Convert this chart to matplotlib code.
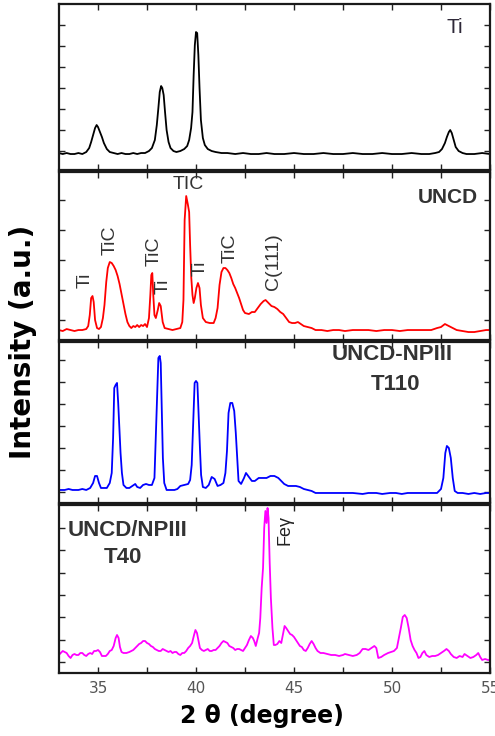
import matplotlib
matplotlib.use("Agg")
import matplotlib.pyplot as plt
from matplotlib.ticker import MultipleLocator

plt.rcParams["font.family"] = ["Liberation Sans", "DejaVu Sans"]

# XRD traces: (2theta, intensity in arbitrary units)
ti_trace = [
    (33.0, 17), (33.2, 16), (33.4, 17), (33.6, 16), (33.8, 16), (34.0, 17), (34.2, 16),
    (34.4, 18), (34.55, 22), (34.65, 28), (34.75, 35), (34.85, 42), (34.93, 45), (35.0, 43),
    (35.1, 38), (35.2, 33), (35.3, 27), (35.45, 21), (35.6, 18), (35.8, 17), (36.0, 16),
    (36.2, 17), (36.4, 16), (36.6, 16), (36.8, 17), (37.0, 16), (37.2, 17), (37.4, 17),
    (37.6, 19), (37.75, 22), (37.9, 30), (38.0, 45), (38.08, 62), (38.15, 78), (38.22, 84),
    (38.28, 82), (38.35, 75), (38.42, 58), (38.5, 40), (38.6, 28), (38.7, 22), (38.85, 19),
    (39.0, 18), (39.2, 19), (39.4, 21), (39.55, 24), (39.65, 30), (39.75, 42), (39.82, 58),
    (39.88, 95), (39.94, 125), (40.0, 138), (40.06, 137), (40.12, 115), (40.18, 82),
    (40.25, 50), (40.35, 32), (40.45, 25), (40.6, 21), (40.8, 19), (41.0, 18), (41.3, 17),
    (41.6, 17), (42.0, 16), (42.4, 17), (42.8, 16), (43.2, 16), (43.6, 17), (44.0, 16),
    (44.5, 16), (45.0, 17), (45.5, 16), (46.0, 16), (46.5, 17), (47.0, 16), (47.5, 16),
    (48.0, 17), (48.5, 16), (49.0, 16), (49.5, 17), (50.0, 16), (50.5, 16), (51.0, 17),
    (51.5, 16), (51.9, 16), (52.2, 17), (52.4, 18), (52.55, 21), (52.7, 27), (52.8, 33),
    (52.9, 38), (52.97, 40), (53.05, 37), (53.15, 30), (53.25, 23), (53.4, 19), (53.6, 17),
    (53.8, 16), (54.2, 16), (54.6, 17), (55.0, 16),
]

uncd_trace = [
    (33.0, 10), (33.2, 9), (33.4, 11), (33.6, 10), (33.8, 9), (34.0, 10), (34.2, 10),
    (34.4, 11), (34.5, 14), (34.58, 25), (34.65, 42), (34.72, 44), (34.78, 38), (34.85, 20),
    (34.95, 12), (35.05, 11), (35.15, 13), (35.25, 22), (35.33, 35), (35.42, 58), (35.5, 72),
    (35.6, 78), (35.7, 77), (35.8, 74), (35.9, 70), (36.0, 64), (36.1, 56), (36.2, 46),
    (36.3, 36), (36.4, 26), (36.5, 18), (36.6, 14), (36.7, 12), (36.8, 14), (36.9, 13),
    (37.0, 15), (37.1, 13), (37.2, 15), (37.3, 14), (37.4, 16), (37.5, 13), (37.6, 22),
    (37.67, 45), (37.72, 65), (37.77, 67), (37.82, 45), (37.88, 25), (37.95, 22), (38.05, 30),
    (38.12, 37), (38.2, 34), (38.3, 18), (38.4, 12), (38.6, 11), (38.8, 10), (39.0, 11),
    (39.2, 12), (39.3, 18), (39.36, 40), (39.42, 120), (39.5, 144), (39.58, 136), (39.65, 128),
    (39.7, 95), (39.76, 62), (39.82, 45), (39.88, 37), (39.94, 42), (40.02, 52), (40.1, 57),
    (40.18, 52), (40.25, 35), (40.35, 22), (40.5, 18), (40.7, 17), (40.9, 17), (41.0, 22),
    (41.1, 32), (41.2, 55), (41.3, 68), (41.4, 72), (41.5, 72), (41.6, 70), (41.7, 67),
    (41.8, 62), (41.9, 56), (42.0, 52), (42.1, 47), (42.2, 42), (42.3, 36), (42.4, 30),
    (42.5, 27), (42.7, 26), (42.85, 28), (43.0, 28), (43.15, 32), (43.3, 36), (43.45, 39),
    (43.55, 40), (43.7, 37), (43.85, 34), (44.0, 33), (44.15, 31), (44.3, 28), (44.45, 26),
    (44.6, 22), (44.75, 18), (44.9, 17), (45.05, 17), (45.2, 18), (45.35, 16), (45.5, 14),
    (45.7, 13), (45.9, 12), (46.1, 10), (46.4, 10), (46.7, 9), (47.0, 10), (47.3, 10),
    (47.6, 9), (48.0, 10), (48.4, 10), (48.8, 10), (49.2, 9), (49.6, 10), (50.0, 10),
    (50.4, 9), (50.8, 10), (51.2, 10), (51.6, 10), (52.0, 10), (52.3, 12), (52.5, 13),
    (52.7, 16), (52.9, 14), (53.1, 12), (53.3, 10), (53.6, 9), (53.9, 8), (54.2, 8),
    (54.5, 9), (54.8, 10), (55.0, 10),
]

t110_trace = [
    (33.0, 13), (33.3, 13), (33.5, 14), (33.7, 13), (34.0, 13), (34.2, 14), (34.4, 13),
    (34.6, 15), (34.75, 20), (34.85, 27), (34.95, 27), (35.05, 20), (35.15, 15), (35.3, 15),
    (35.45, 15), (35.6, 20), (35.7, 30), (35.77, 65), (35.83, 115), (35.9, 118), (35.97, 120),
    (36.03, 100), (36.08, 80), (36.15, 50), (36.22, 30), (36.3, 18), (36.45, 15), (36.6, 15),
    (36.75, 17), (36.9, 19), (37.0, 16), (37.15, 15), (37.3, 18), (37.45, 19), (37.6, 18),
    (37.75, 18), (37.88, 25), (37.95, 67), (38.02, 110), (38.08, 145), (38.15, 147),
    (38.2, 140), (38.25, 95), (38.31, 45), (38.38, 20), (38.5, 13), (38.7, 13), (38.9, 13),
    (39.05, 14), (39.2, 17), (39.4, 18), (39.6, 19), (39.7, 23), (39.78, 38), (39.86, 83),
    (39.93, 120), (40.0, 122), (40.07, 120), (40.14, 85), (40.2, 55), (40.26, 28),
    (40.35, 16), (40.5, 15), (40.65, 18), (40.8, 26), (40.95, 24), (41.1, 17), (41.25, 18),
    (41.4, 20), (41.5, 30), (41.58, 52), (41.66, 90), (41.75, 100), (41.85, 100), (41.95, 92),
    (42.03, 70), (42.1, 45), (42.17, 22), (42.3, 19), (42.45, 25), (42.55, 30), (42.7, 26),
    (42.85, 22), (43.0, 22), (43.2, 25), (43.4, 25), (43.6, 25), (43.8, 27), (44.0, 27),
    (44.2, 25), (44.35, 22), (44.5, 19), (44.7, 17), (44.9, 17), (45.1, 17), (45.3, 16),
    (45.5, 14), (45.7, 13), (45.9, 12), (46.1, 10), (46.5, 10), (47.0, 10), (47.5, 10),
    (48.0, 10), (48.5, 9), (48.8, 10), (49.2, 10), (49.5, 9), (49.9, 10), (50.2, 10),
    (50.5, 9), (50.8, 10), (51.2, 10), (51.6, 10), (52.0, 10), (52.3, 10), (52.5, 14),
    (52.62, 25), (52.72, 50), (52.8, 57), (52.9, 55), (53.0, 45), (53.1, 25), (53.2, 12),
    (53.35, 10), (53.6, 10), (53.9, 9), (54.2, 10), (54.5, 9), (54.8, 10), (55.0, 10),
]

t40_trace = [
    (33.0, 18), (33.1, 20), (33.2, 22), (33.3, 21), (33.4, 20), (33.5, 17), (33.6, 15),
    (33.7, 18), (33.8, 19), (33.9, 18), (34.0, 18), (34.1, 20), (34.2, 20), (34.3, 18),
    (34.4, 17), (34.5, 19), (34.6, 20), (34.7, 19), (34.8, 22), (34.9, 22), (35.0, 23),
    (35.1, 21), (35.2, 17), (35.3, 17), (35.4, 17), (35.5, 19), (35.6, 22), (35.7, 23),
    (35.8, 27), (35.9, 35), (35.97, 38), (36.05, 35), (36.12, 26), (36.2, 21), (36.3, 20),
    (36.45, 20), (36.6, 21), (36.7, 22), (36.8, 23), (36.9, 25), (37.0, 27), (37.1, 29),
    (37.2, 30), (37.3, 32), (37.4, 32), (37.5, 30), (37.6, 29), (37.7, 27), (37.8, 26),
    (37.9, 24), (38.0, 23), (38.1, 22), (38.2, 22), (38.3, 24), (38.4, 23), (38.5, 22),
    (38.6, 21), (38.7, 22), (38.8, 20), (38.9, 21), (39.0, 21), (39.1, 19), (39.2, 18),
    (39.3, 20), (39.4, 20), (39.5, 22), (39.6, 25), (39.7, 27), (39.8, 30), (39.9, 38),
    (39.97, 43), (40.05, 40), (40.12, 33), (40.2, 25), (40.3, 23), (40.4, 22), (40.5, 23),
    (40.6, 24), (40.7, 22), (40.8, 22), (40.9, 23), (41.0, 23), (41.1, 25), (41.2, 27),
    (41.3, 30), (41.4, 32), (41.5, 31), (41.6, 30), (41.7, 27), (41.8, 26), (41.9, 25),
    (42.0, 23), (42.1, 24), (42.2, 24), (42.3, 23), (42.4, 22), (42.5, 25), (42.6, 28),
    (42.7, 33), (42.8, 37), (42.9, 35), (42.97, 32), (43.05, 27), (43.15, 35), (43.22, 40),
    (43.28, 55), (43.35, 85), (43.42, 105), (43.48, 145), (43.54, 162), (43.6, 150),
    (43.65, 165), (43.7, 155), (43.76, 110), (43.82, 75), (43.9, 45), (43.97, 28),
    (44.05, 28), (44.15, 29), (44.25, 32), (44.35, 30), (44.45, 40), (44.52, 47), (44.6, 45),
    (44.7, 42), (44.8, 39), (44.9, 38), (45.0, 36), (45.1, 33), (45.2, 30), (45.3, 27),
    (45.4, 26), (45.5, 23), (45.6, 22), (45.7, 25), (45.8, 29), (45.9, 32), (46.0, 29),
    (46.1, 25), (46.2, 22), (46.35, 20), (46.5, 20), (46.7, 19), (46.9, 18), (47.1, 18),
    (47.3, 17), (47.5, 18), (47.6, 19), (47.8, 18), (48.0, 17), (48.2, 18), (48.35, 20),
    (48.5, 24), (48.65, 24), (48.8, 23), (48.95, 25), (49.1, 27), (49.2, 25), (49.3, 15),
    (49.45, 16), (49.6, 18), (49.8, 20), (49.95, 21), (50.1, 22), (50.25, 25), (50.35, 35),
    (50.45, 45), (50.55, 56), (50.65, 58), (50.75, 55), (50.85, 45), (50.95, 33), (51.05, 27),
    (51.15, 23), (51.25, 20), (51.35, 15), (51.45, 16), (51.55, 20), (51.65, 22), (51.75, 18),
    (51.9, 16), (52.05, 17), (52.2, 17), (52.35, 18), (52.5, 20), (52.65, 22), (52.78, 24),
    (52.9, 22), (53.0, 19), (53.15, 16), (53.3, 15), (53.45, 17), (53.6, 16), (53.7, 19),
    (53.85, 17), (54.0, 15), (54.15, 16), (54.3, 18), (54.4, 20), (54.5, 16), (54.6, 13),
    (54.75, 14), (54.9, 13), (55.0, 13),
]

# peak labels on the UNCD panel: (text, 2theta, height, rotation)
uncd_peaks = [
    ("Ti", 34.34, 60, 90),
    ("TiC", 35.61, 100, 90),
    ("TiC", 37.86, 89, 90),
    ("Ti", 38.33, 54, 90),
    ("TIC", 39.61, 156, 0),
    ("Ti", 40.2, 72, 90),
    ("TiC", 41.73, 92, 90),
    ("C(111)", 43.94, 78, 90),
]

x_ticks = [35, 40, 45, 50, 55]

fig = plt.figure(figsize=(4.95, 7.36), dpi=100)

# panel boxes in figure fraction: left, bottom, width, height
boxes = [
    (0.1188, 0.7690, 0.8711, 0.2255),
    (0.1188, 0.5380, 0.8711, 0.2283),
    (0.1188, 0.3166, 0.8711, 0.2188),
    (0.1188, 0.0856, 0.8711, 0.2283),
]
ytop = [166, 168, 161, 168]
ytick_sets = [
    [19, 40, 61, 82, 103, 124, 145],
    [20, 50, 80, 110, 140],
    [11, 33, 55, 77, 99, 121, 143],
    [11, 33, 56, 78, 100, 123, 145],
]
traces = [ti_trace, uncd_trace, t110_trace, t40_trace]
colors = ["black", "#ff0000", "#0000ff", "#ff00ff"]

axes = []
for i, tr in enumerate(traces):
    ax = fig.add_axes(boxes[i])
    xs, ys = zip(*tr)
    ax.plot(xs, ys, color=colors[i], lw=1.3)
    ax.set_xlim(33, 55)
    ax.set_ylim(0, ytop[i])
    ax.set_xticks(x_ticks)
    ax.xaxis.set_minor_locator(MultipleLocator(2.5))
    ax.set_yticks(ytick_sets[i])
    ax.set_yticklabels([])
    ax.tick_params(which="both", direction="in", top=True, right=True,
                   length=4, width=1, colors="#222222")
    for s in ax.spines.values():
        s.set_linewidth(1.6)
        s.set_color("#1a1a1a")
    if i < 3:
        ax.set_xticklabels([])
    axes.append(ax)

ax1, ax2, ax3, ax4 = axes
txt = "#333333"

ax1.text(0.919, 0.861, "Ti", transform=ax1.transAxes, ha="center", va="center",
         fontsize=15, color="#2e2838")

ax2.text(0.903, 0.851, "UNCD", transform=ax2.transAxes, ha="center", va="center",
         fontsize=15, fontweight="bold", color=txt)
for label, px, py, rot in uncd_peaks:
    ax2.text(px, py, label, rotation=rot, ha="center", va="center",
             fontsize=14, color=txt)

ax3.text(0.774, 0.919, "UNCD-NPIII", transform=ax3.transAxes, ha="center",
         va="center", fontsize=16, fontweight="bold", color=txt)
ax3.text(0.781, 0.733, "T110", transform=ax3.transAxes, ha="center",
         va="center", fontsize=16, fontweight="bold", color=txt)

ax4.text(0.160, 0.851, "UNCD/NPIII", transform=ax4.transAxes, ha="center",
         va="center", fontsize=16, fontweight="bold", color=txt)
ax4.text(0.149, 0.685, "T40", transform=ax4.transAxes, ha="center",
         va="center", fontsize=16, fontweight="bold", color=txt)
ax4.text(0.525, 0.851, "Feγ", transform=ax4.transAxes, rotation=90, ha="center",
         va="center", fontsize=13, color="#222222")

ax4.set_xticklabels([str(t) for t in x_ticks], fontsize=11, color="#555555",
                    family="DejaVu Sans")
ax4.tick_params(axis="x", which="major", pad=6)

fig.text(0.529, 0.027, "2 θ (degree)", ha="center", va="center",
         fontsize=17, fontweight="bold", family="DejaVu Sans")
fig.text(0.047, 0.535, "Intensity (a.u.)", rotation=90, ha="center",
         va="center", fontsize=20, fontweight="bold", family="DejaVu Sans")

fig.savefig("out.png", dpi=100)
